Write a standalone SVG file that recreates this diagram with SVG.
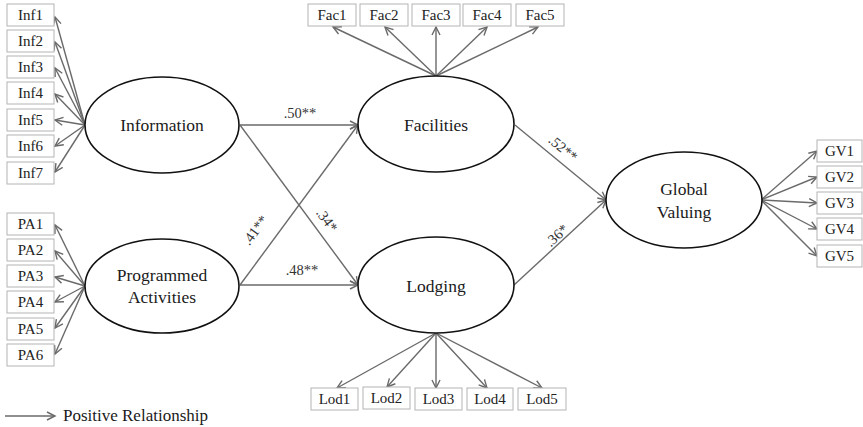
<svg xmlns="http://www.w3.org/2000/svg" width="863" height="427" viewBox="0 0 863 427">
  <style>
    .bg { fill: #ffffff; }
    .box { fill: #ffffff; stroke: #b4b4b4; stroke-width: 1; }
    .lat { fill: #ffffff; stroke: #111111; stroke-width: 1.6; }
    text { font-family: 'Liberation Serif', 'Times New Roman', 'DejaVu Serif', serif; }
    .obs { font-size: 15px; fill: #222222; text-anchor: middle; }
    .name { font-size: 17.5px; fill: #1a1a1a; text-anchor: middle; }
    .coef { font-size: 14.5px; fill: #333333; text-anchor: middle; }
    .legend { font-size: 17px; fill: #1a1a1a; }
    .edge { stroke: #6a6a6a; stroke-width: 1.4; fill: none; marker-end: url(#arr); }
  </style>
  <defs>
    <marker id="arr" markerUnits="userSpaceOnUse" markerWidth="12" markerHeight="12" refX="9" refY="5" orient="auto">
      <path d="M1,1 L9,5 L1,9" fill="none" stroke="#6a6a6a" stroke-width="1.4"/>
    </marker>
  </defs>
  <rect class="bg" x="0" y="0" width="863" height="427"/>

  <!-- connectors -->
  <g id="connectors">
    <!-- Information indicators -->
    <line class="edge" x1="85" y1="125" x2="55" y2="17"/>
    <line class="edge" x1="85" y1="125" x2="55" y2="42"/>
    <line class="edge" x1="85" y1="125" x2="55" y2="68"/>
    <line class="edge" x1="85" y1="125" x2="55" y2="94"/>
    <line class="edge" x1="85" y1="125" x2="55" y2="120"/>
    <line class="edge" x1="85" y1="125" x2="55" y2="146"/>
    <line class="edge" x1="85" y1="125" x2="55" y2="172"/>
    <!-- Programmed Activities indicators -->
    <line class="edge" x1="85" y1="286" x2="55" y2="225"/>
    <line class="edge" x1="85" y1="286" x2="55" y2="251"/>
    <line class="edge" x1="85" y1="286" x2="55" y2="277"/>
    <line class="edge" x1="85" y1="286" x2="55" y2="302"/>
    <line class="edge" x1="85" y1="286" x2="55" y2="328"/>
    <line class="edge" x1="85" y1="286" x2="55" y2="354"/>
    <!-- Facilities indicators -->
    <line class="edge" x1="436" y1="76" x2="333" y2="27"/>
    <line class="edge" x1="436" y1="76" x2="385" y2="27"/>
    <line class="edge" x1="436" y1="76" x2="436" y2="27"/>
    <line class="edge" x1="436" y1="76" x2="487" y2="27"/>
    <line class="edge" x1="436" y1="76" x2="538" y2="27"/>
    <!-- Lodging indicators -->
    <line class="edge" x1="436" y1="333" x2="337" y2="388"/>
    <line class="edge" x1="436" y1="333" x2="387" y2="387"/>
    <line class="edge" x1="436" y1="333" x2="436" y2="388"/>
    <line class="edge" x1="436" y1="333" x2="487" y2="388"/>
    <line class="edge" x1="436" y1="333" x2="542" y2="388"/>
    <!-- Global Valuing indicators -->
    <line class="edge" x1="761" y1="200" x2="817" y2="151"/>
    <line class="edge" x1="761" y1="200" x2="817" y2="177"/>
    <line class="edge" x1="761" y1="200" x2="817" y2="203"/>
    <line class="edge" x1="761" y1="200" x2="817" y2="229"/>
    <line class="edge" x1="761" y1="200" x2="817" y2="256"/>
    <!-- structural paths -->
    <line class="edge" x1="240" y1="125" x2="358" y2="125"/>
    <line class="edge" x1="240" y1="125" x2="358" y2="285"/>
    <line class="edge" x1="240" y1="285" x2="358" y2="125"/>
    <line class="edge" x1="240" y1="285" x2="358" y2="285"/>
    <line class="edge" x1="515" y1="125" x2="606" y2="200"/>
    <line class="edge" x1="514" y1="285" x2="606" y2="200"/>
    <!-- path coefficients -->
    <text class="coef" x="300" y="118">.50**</text>
    <text class="coef" x="302" y="275">.48**</text>
    <text class="coef" transform="translate(259,233) rotate(-53.6)">.41**</text>
    <text class="coef" transform="translate(323,223) rotate(53.6)">.34*</text>
    <text class="coef" transform="translate(560,152) rotate(39.5)">.52**</text>
    <text class="coef" transform="translate(560,239) rotate(-42.7)">.36*</text>
  </g>

  <!-- latent constructs -->
  <g id="information">
    <ellipse class="lat" cx="162" cy="125" rx="77" ry="48"/>
    <text class="name" x="162" y="131">Information</text>
  </g>
  <g id="programmed-activities">
    <ellipse class="lat" cx="162" cy="286" rx="77" ry="47"/>
    <text class="name" x="162" y="281">Programmed</text>
    <text class="name" x="162" y="303">Activities</text>
  </g>
  <g id="facilities">
    <ellipse class="lat" cx="436" cy="124" rx="78" ry="48"/>
    <text class="name" x="436" y="131">Facilities</text>
  </g>
  <g id="lodging">
    <ellipse class="lat" cx="436" cy="285" rx="78" ry="48"/>
    <text class="name" x="436" y="292">Lodging</text>
  </g>
  <g id="global-valuing">
    <ellipse class="lat" cx="684" cy="200" rx="78" ry="48"/>
    <text class="name" x="684" y="195">Global</text>
    <text class="name" x="684" y="218">Valuing</text>
  </g>

  <!-- Information indicators -->
  <g id="inf1"><rect class="box" x="7" y="4" width="47" height="22"/><text class="obs" x="30.5" y="20">Inf1</text></g>
  <g id="inf2"><rect class="box" x="7" y="30" width="47" height="22"/><text class="obs" x="30.5" y="46">Inf2</text></g>
  <g id="inf3"><rect class="box" x="7" y="56" width="47" height="22"/><text class="obs" x="30.5" y="72">Inf3</text></g>
  <g id="inf4"><rect class="box" x="7" y="82" width="47" height="22"/><text class="obs" x="30.5" y="98">Inf4</text></g>
  <g id="inf5"><rect class="box" x="7" y="109" width="47" height="22"/><text class="obs" x="30.5" y="125">Inf5</text></g>
  <g id="inf6"><rect class="box" x="7" y="135" width="47" height="22"/><text class="obs" x="30.5" y="151">Inf6</text></g>
  <g id="inf7"><rect class="box" x="7" y="162" width="47" height="22"/><text class="obs" x="30.5" y="178">Inf7</text></g>

  <!-- Programmed Activities indicators -->
  <g id="pa1"><rect class="box" x="7" y="213" width="47" height="22"/><text class="obs" x="30.5" y="229">PA1</text></g>
  <g id="pa2"><rect class="box" x="7" y="239" width="47" height="22"/><text class="obs" x="30.5" y="255">PA2</text></g>
  <g id="pa3"><rect class="box" x="7" y="265" width="47" height="22"/><text class="obs" x="30.5" y="281">PA3</text></g>
  <g id="pa4"><rect class="box" x="7" y="291" width="47" height="22"/><text class="obs" x="30.5" y="307">PA4</text></g>
  <g id="pa5"><rect class="box" x="7" y="318" width="47" height="22"/><text class="obs" x="30.5" y="334">PA5</text></g>
  <g id="pa6"><rect class="box" x="7" y="344" width="47" height="22"/><text class="obs" x="30.5" y="360">PA6</text></g>

  <!-- Facilities indicators -->
  <g id="fac1"><rect class="box" x="308" y="4" width="48" height="22"/><text class="obs" x="332" y="20">Fac1</text></g>
  <g id="fac2"><rect class="box" x="360" y="4" width="48" height="22"/><text class="obs" x="384" y="20">Fac2</text></g>
  <g id="fac3"><rect class="box" x="412" y="4" width="48" height="22"/><text class="obs" x="436" y="20">Fac3</text></g>
  <g id="fac4"><rect class="box" x="463" y="4" width="48" height="22"/><text class="obs" x="487" y="20">Fac4</text></g>
  <g id="fac5"><rect class="box" x="516" y="4" width="48" height="22"/><text class="obs" x="540" y="20">Fac5</text></g>

  <!-- Lodging indicators -->
  <g id="lod1"><rect class="box" x="311" y="388" width="47" height="22"/><text class="obs" x="334.5" y="404">Lod1</text></g>
  <g id="lod2"><rect class="box" x="363" y="387" width="47" height="22"/><text class="obs" x="386.5" y="403">Lod2</text></g>
  <g id="lod3"><rect class="box" x="415" y="388" width="47" height="22"/><text class="obs" x="438.5" y="404">Lod3</text></g>
  <g id="lod4"><rect class="box" x="467" y="388" width="46" height="22"/><text class="obs" x="490" y="404">Lod4</text></g>
  <g id="lod5"><rect class="box" x="518" y="388" width="48" height="22"/><text class="obs" x="542" y="404">Lod5</text></g>

  <!-- Global Valuing indicators -->
  <g id="gv1"><rect class="box" x="817" y="140" width="45" height="22"/><text class="obs" x="839.5" y="156">GV1</text></g>
  <g id="gv2"><rect class="box" x="817" y="166" width="45" height="22"/><text class="obs" x="839.5" y="182">GV2</text></g>
  <g id="gv3"><rect class="box" x="817" y="192" width="45" height="22"/><text class="obs" x="839.5" y="208">GV3</text></g>
  <g id="gv4"><rect class="box" x="817" y="218" width="45" height="22"/><text class="obs" x="839.5" y="234">GV4</text></g>
  <g id="gv5"><rect class="box" x="817" y="245" width="45" height="22"/><text class="obs" x="839.5" y="261">GV5</text></g>

  <!-- legend -->
  <g id="legend">
    <line class="edge" x1="5" y1="416" x2="55" y2="416"/>
    <text class="legend" x="63" y="421">Positive Relationship</text>
  </g>
</svg>
